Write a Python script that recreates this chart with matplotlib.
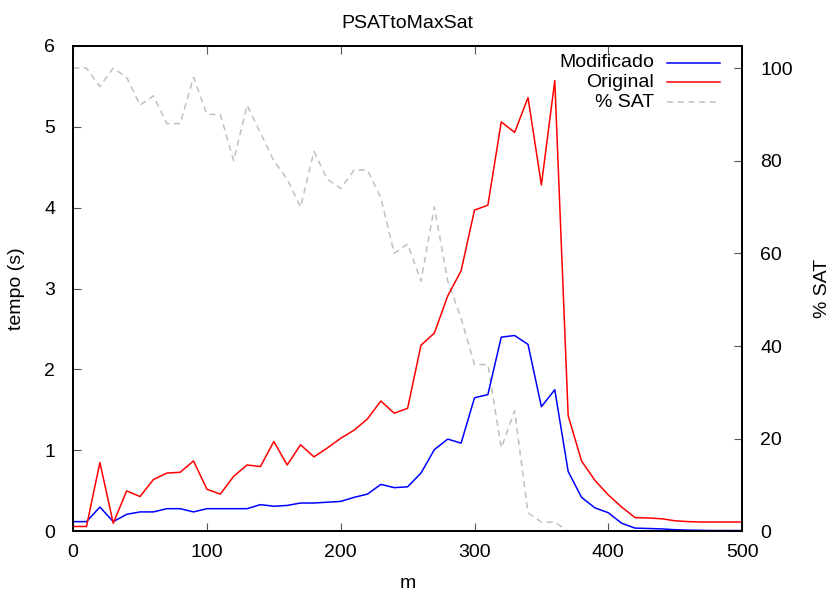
import numpy as np
import matplotlib.pyplot as plt

plt.rcParams['font.family'] = ['Liberation Sans', 'DejaVu Sans']
plt.rcParams['font.size'] = 14

# valores de m
m = np.arange(0, 510, 10)

# tempo (s) da versao modificada
modificado = [0.12, 0.12, 0.30, 0.12, 0.21, 0.24, 0.24, 0.28, 0.28, 0.24,
              0.28, 0.28, 0.28, 0.28, 0.33, 0.31, 0.32, 0.35, 0.35, 0.36,
              0.37, 0.42, 0.46, 0.58, 0.54, 0.55, 0.72, 1.01, 1.14, 1.09,
              1.65, 1.69, 2.40, 2.42, 2.31, 1.54, 1.75, 0.74, 0.42, 0.29,
              0.23, 0.10, 0.04, 0.035, 0.03, 0.02, 0.015, 0.012, 0.01, 0.01,
              0.01]

# tempo (s) da versao original
original = [0.06, 0.06, 0.85, 0.10, 0.50, 0.43, 0.64, 0.72, 0.73, 0.87,
            0.52, 0.46, 0.68, 0.82, 0.80, 1.11, 0.82, 1.07, 0.92, 1.03,
            1.15, 1.25, 1.39, 1.61, 1.46, 1.52, 2.30, 2.45, 2.91, 3.22,
            3.97, 4.03, 5.06, 4.93, 5.36, 4.28, 5.57, 1.43, 0.87, 0.63,
            0.45, 0.30, 0.17, 0.165, 0.155, 0.13, 0.12, 0.115, 0.115, 0.115,
            0.115]

# porcentagem de instancias SAT
sat = [100, 100, 96, 100, 98, 92, 94, 88, 88, 98,
       90, 90, 80, 92, 86, 80, 76, 70, 82, 76,
       74, 78, 78, 72, 60, 62, 54, 70, 54, 46,
       36, 36, 18, 26, 4, 2, 2, 0, 0, 0,
       0, 0, 0, 0, 0, 0, 0, 0, 0, 0,
       0]

fig, ax = plt.subplots(figsize=(8.31, 5.95), dpi=100)
fig.subplots_adjust(left=0.088, right=0.893, top=0.923, bottom=0.107)
ax2 = ax.twinx()

ax.plot(m, modificado, color='#0000ff', lw=1.1)
ax.plot(m, original, color='#ff0000', lw=1.1)
ax2.plot(m, sat, color='#c0c0c0', lw=1.1, dashes=(4, 3))

ax.set_xlim(0, 500)
ax.set_ylim(0, 6)
ax2.set_ylim(0, 104.8)
ax.set_xticks(np.arange(0, 501, 100))
ax.set_yticks(np.arange(0, 7, 1))
ax2.set_yticks(np.arange(0, 101, 20))

ax.tick_params(axis='x', direction='in', top=True, length=6, pad=9, color='#555555')
ax.tick_params(axis='y', direction='in', length=6, pad=13, color='#555555')
ax2.tick_params(axis='y', direction='in', length=6, pad=13, color='#555555')
ax.set_zorder(ax2.get_zorder() + 1)
ax.patch.set_visible(False)

for a in (ax, ax2):
    for s in a.spines.values():
        s.set_linewidth(1.3)

ax.set_xlabel('m', labelpad=10)
ax.set_ylabel('tempo (s)', labelpad=14)
ax2.set_ylabel('% SAT', labelpad=15)
ax.set_title('PSATtoMaxSat', fontsize=14, pad=13)

# legenda no estilo gnuplot: texto alinhado a direita, amostra depois
itens = [('Modificado', '#0000ff', '-'), ('Original', '#ff0000', '-'), ('% SAT', '#c0c0c0', '--')]
for i, (nome, cor, estilo) in enumerate(itens):
    yy = 0.965 - i * 0.0405
    ax.text(0.868, yy, nome, transform=ax.transAxes, ha='right', va='center')
    ln, = ax.plot([0.888, 0.967], [yy, yy], transform=ax.transAxes, color=cor, lw=1.1)
    if estilo == '--':
        ln.set_dashes((4, 3))

fig.savefig('out.png')
